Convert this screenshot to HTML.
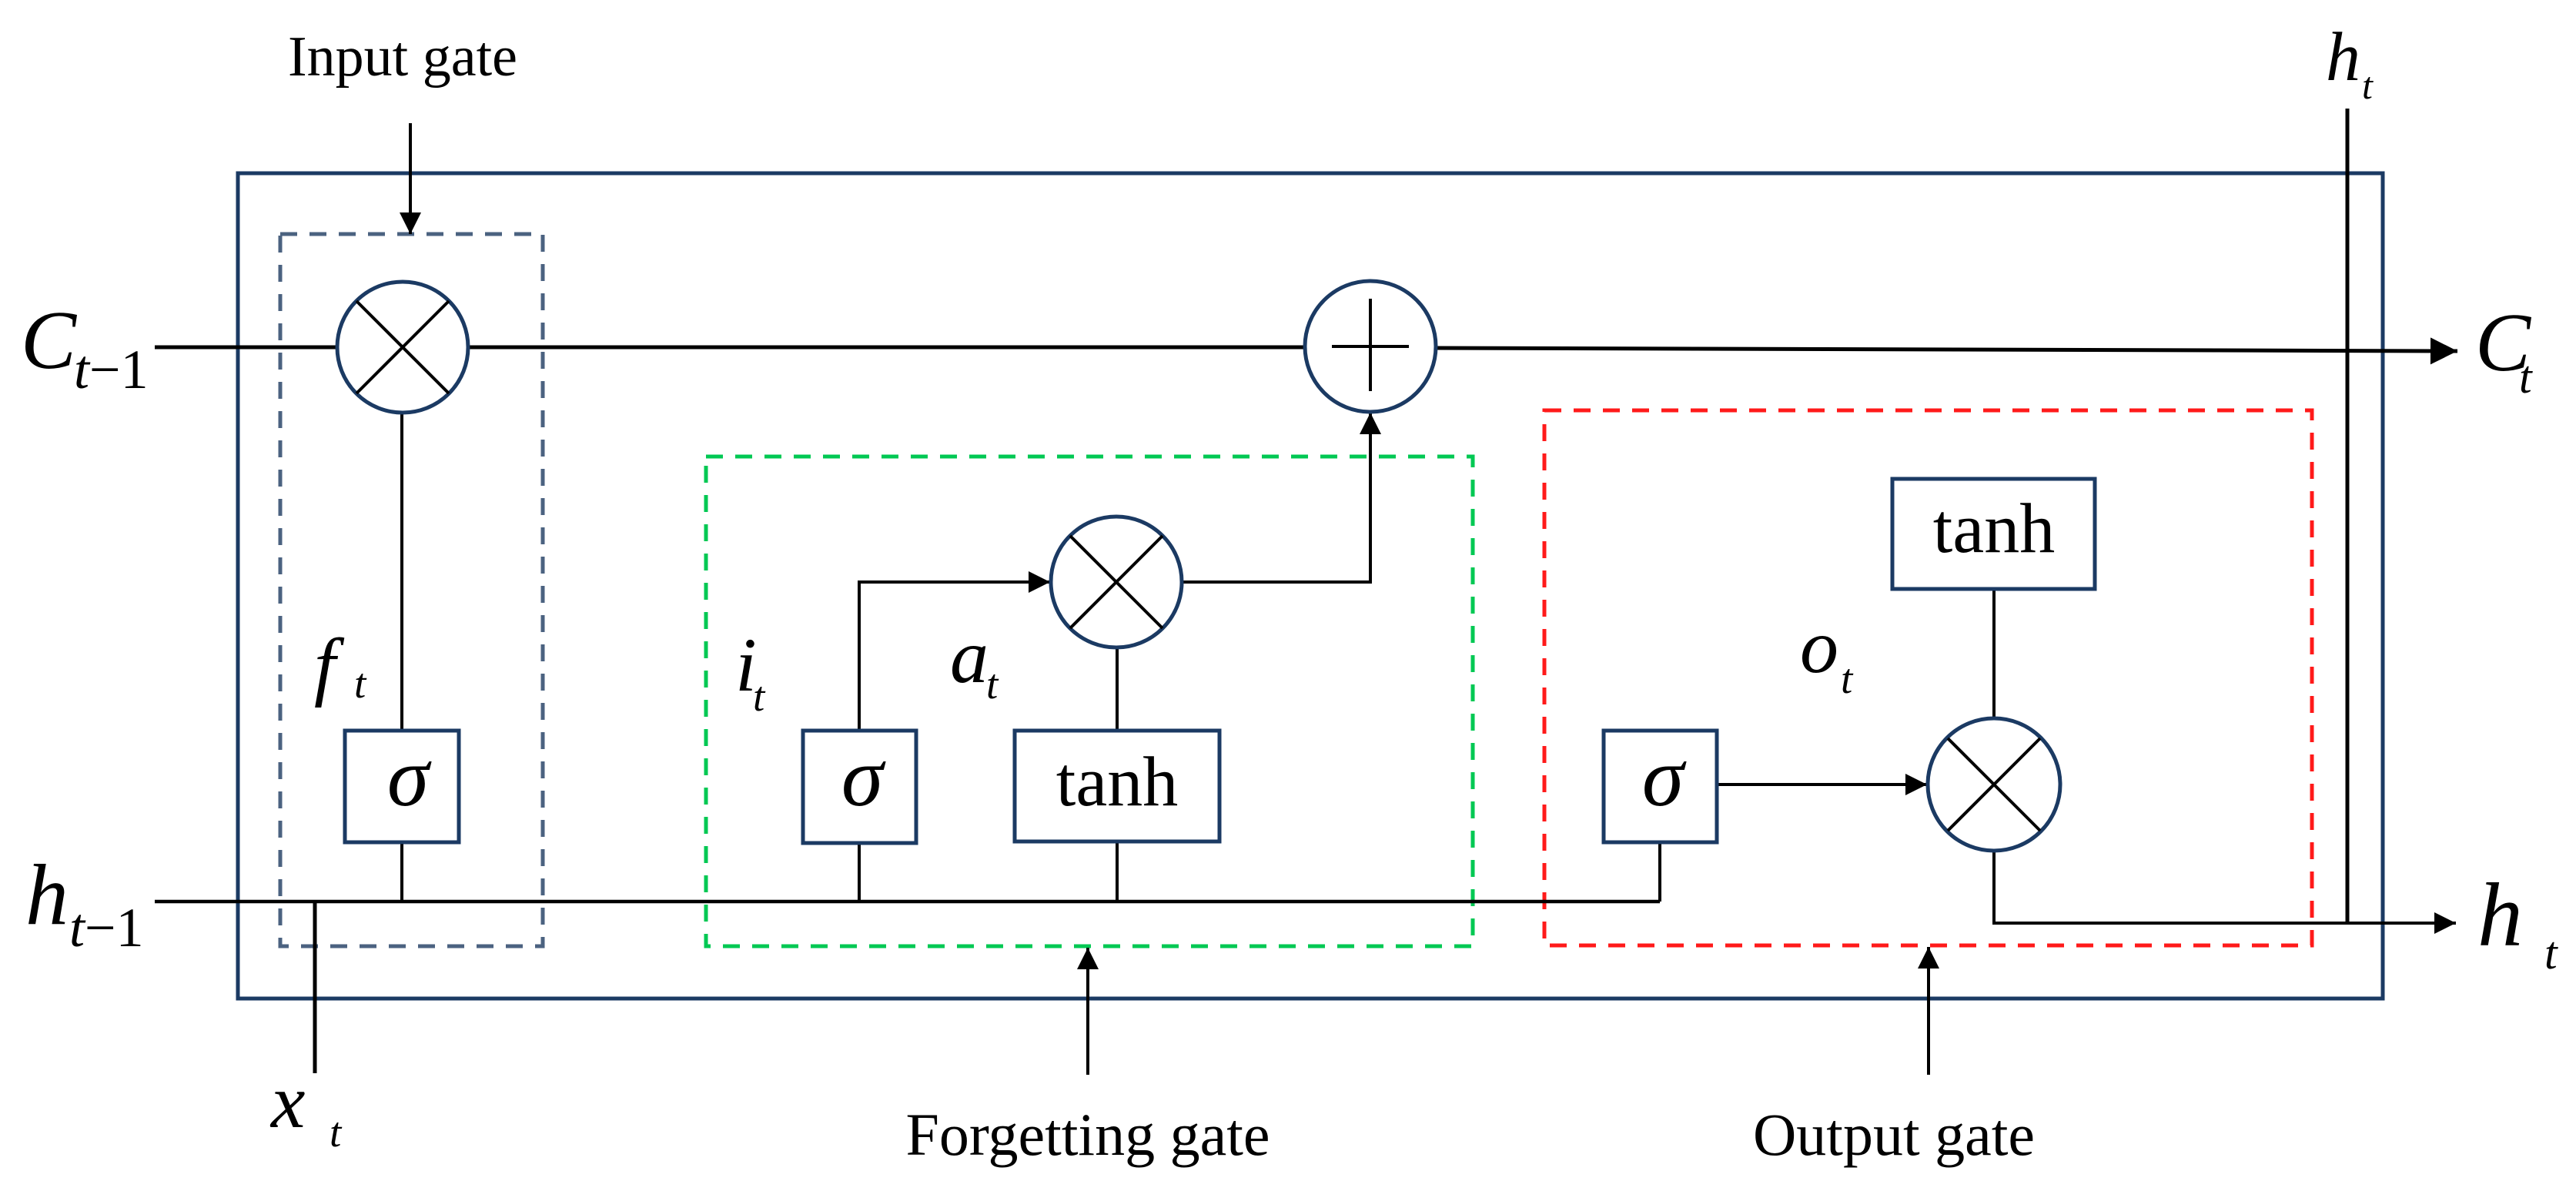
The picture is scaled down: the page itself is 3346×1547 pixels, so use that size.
<!DOCTYPE html>
<html><head><meta charset="utf-8"><style>
html,body{margin:0;padding:0;background:#fff;}
svg{display:block;}
text{font-family:"Liberation Serif",serif;fill:#000;}
.it{font-style:italic;}
</style></head><body>
<svg width="3346" height="1547" viewBox="0 0 3346 1547" xmlns="http://www.w3.org/2000/svg">
<defs>
<marker id="ar" viewBox="0 0 10 10" refX="10" refY="5" markerWidth="9" markerHeight="7" markerUnits="strokeWidth" orient="auto"><path d="M0,0 L10,5 L0,10 z" fill="#000"/></marker>
</defs>
<rect x="309" y="225" width="2786" height="1072" fill="none" stroke="#1b3a63" stroke-width="5"/>
<rect x="364" y="304" width="341" height="925" fill="none" stroke="#4b6280" stroke-width="5" stroke-dasharray="22,16"/>
<rect x="917" y="593" width="996" height="636" fill="none" stroke="#00c853" stroke-width="5" stroke-dasharray="22,16"/>
<rect x="2006" y="533" width="997" height="695" fill="none" stroke="#ff1a1a" stroke-width="5" stroke-dasharray="22,16"/>

<g stroke="#000" stroke-width="5" fill="none">
<line x1="201" y1="451" x2="438" y2="451"/>
<line x1="608" y1="451" x2="1695" y2="451"/>
<line x1="1865" y1="452" x2="3192" y2="456" marker-end="url(#ar)"/>
<line x1="533" y1="160" x2="533" y2="304" stroke-width="4" marker-end="url(#ar)"/>
<line x1="522" y1="536" x2="522" y2="949" stroke-width="4"/>
<line x1="522" y1="1094" x2="522" y2="1171" stroke-width="4"/>
<line x1="201" y1="1171" x2="2156" y2="1171" stroke-width="4.5"/>
<line x1="2156" y1="1094" x2="2156" y2="1171" stroke-width="4"/>
<line x1="409" y1="1171" x2="409" y2="1394" stroke-width="5"/>
<line x1="1116" y1="1171" x2="1116" y2="1095" stroke-width="4"/>
<polyline points="1116,949 1116,756 1364,756" stroke-width="4" marker-end="url(#ar)"/>
<polyline points="1535,756 1780,756 1780,536" stroke-width="4" marker-end="url(#ar)"/>
<line x1="1451" y1="841" x2="1451" y2="949" stroke-width="4"/>
<line x1="1451" y1="1093" x2="1451" y2="1171" stroke-width="4"/>
<line x1="2230" y1="1019" x2="2503" y2="1019" stroke-width="4" marker-end="url(#ar)"/>
<line x1="2590" y1="765" x2="2590" y2="933" stroke-width="4"/>
<polyline points="2590,1105 2590,1199 3190,1199" stroke-width="4" marker-end="url(#ar)"/>
<line x1="3049" y1="141" x2="3049" y2="1199" stroke-width="5"/>
<line x1="1413" y1="1396" x2="1413" y2="1231" stroke-width="4" marker-end="url(#ar)"/>
<line x1="2505" y1="1396" x2="2505" y2="1230" stroke-width="4" marker-end="url(#ar)"/>
</g>

<g fill="#fff" stroke="#1b3a63" stroke-width="5">
<circle cx="523" cy="451" r="85"/>
<circle cx="1780" cy="450" r="85"/>
<circle cx="1450" cy="756" r="85"/>
<circle cx="2590" cy="1019" r="86"/>
</g>
<g stroke="#000" stroke-width="4">
<line x1="463" y1="391" x2="583" y2="511"/><line x1="583" y1="391" x2="463" y2="511"/>
<line x1="1390" y1="696" x2="1510" y2="816"/><line x1="1510" y1="696" x2="1390" y2="816"/>
<line x1="2530" y1="959" x2="2650" y2="1079"/><line x1="2650" y1="959" x2="2530" y2="1079"/>
<line x1="1730" y1="450" x2="1830" y2="450"/><line x1="1780" y1="388" x2="1780" y2="508"/>
</g>

<g fill="#fff" stroke="#1b3a63" stroke-width="5">
<rect x="448" y="949" width="148" height="145"/>
<rect x="1043" y="949" width="147" height="146"/>
<rect x="2083" y="949" width="147" height="145"/>
<rect x="1318" y="949" width="266" height="144"/>
<rect x="2458" y="622" width="263" height="143"/>
</g>
<text x="530" y="1046" class="it" font-size="110" text-anchor="middle">σ</text>
<text x="1120" y="1046" class="it" font-size="110" text-anchor="middle">σ</text>
<text x="2160" y="1046" class="it" font-size="110" text-anchor="middle">σ</text>
<text x="1451" y="1046" font-size="92" text-anchor="middle">tanh</text>
<text x="2590" y="717" font-size="92" text-anchor="middle">tanh</text>

<text x="523" y="98" font-size="74" text-anchor="middle">Input gate</text>
<text x="1413" y="1500" font-size="78" text-anchor="middle">Forgetting gate</text>
<text x="2460" y="1500" font-size="78" text-anchor="middle">Output gate</text>

<text class="it" x="27" y="478" font-size="108">C</text>
<text class="it" x="96" y="504" font-size="72">t<tspan font-style="normal">−1</tspan></text>
<text class="it" x="33" y="1200" font-size="112">h</text>
<text class="it" x="90" y="1229" font-size="72">t<tspan font-style="normal">−1</tspan></text>
<text class="it" x="3215" y="481" font-size="108">C</text>
<text class="it" x="3272" y="510" font-size="60">t</text>
<text class="it" x="3218" y="1228" font-size="118">h</text>
<text class="it" x="3305" y="1258" font-size="60">t</text>
<text class="it" x="3021" y="104" font-size="90">h</text>
<text class="it" x="3068" y="128" font-size="50">t</text>
<text class="it" x="352" y="1464" font-size="100">x</text>
<text class="it" x="428" y="1489" font-size="55">t</text>
<text class="it" x="408" y="898" font-size="100">f</text>
<text class="it" x="460" y="906" font-size="55">t</text>
<text class="it" x="955" y="897" font-size="100">i</text>
<text class="it" x="978" y="923" font-size="55">t</text>
<text class="it" x="1234" y="886" font-size="100">a</text>
<text class="it" x="1281" y="907" font-size="55">t</text>
<text class="it" x="2338" y="873" font-size="100">o</text>
<text class="it" x="2391" y="900" font-size="55">t</text>
</svg>
</body></html>
